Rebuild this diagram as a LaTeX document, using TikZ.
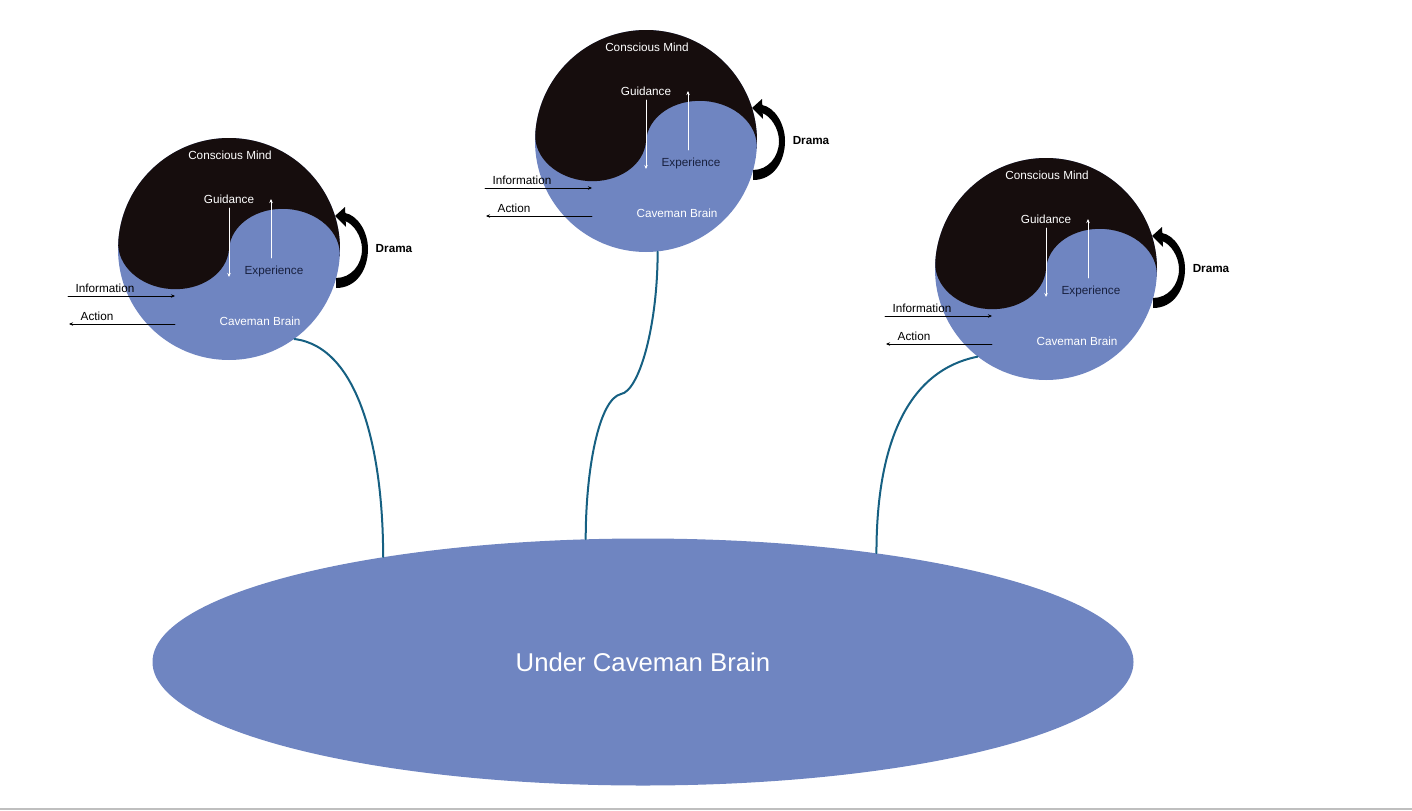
\documentclass[tikz,border=0pt]{standalone}
\usepackage{fontspec}
\setmainfont{Liberation Sans}
\usetikzlibrary{arrows.meta,shapes.geometric}
\definecolor{brainblue}{RGB}{111,133,193}
\definecolor{mindblack}{RGB}{22,13,13}
\definecolor{linkteal}{RGB}{22,96,130}
\definecolor{expnavy}{RGB}{24,32,62}
\tikzset{
  lbl/.style={font=\fontsize{8.8}{10}\selectfont,inner sep=0pt},
  thinarrow/.style={-{Stealth[length=3pt,width=2.6pt]},line width=0.6pt},
  link/.style={linkteal,line width=1.5pt},
}
\begin{document}
\begin{tikzpicture}[x={(0.75pt,0pt)},y={(0pt,-0.75pt)},line join=round,line cap=round]
  \path[use as bounding box] (0,0) rectangle (1412,810);
  \draw[gray!50,line width=1.5pt] (0,809) -- (1412,809);
  % base of all
  \node[ellipse,fill=brainblue,minimum width=735.75pt,minimum height=185.25pt,inner sep=0pt,
        text=white,font=\fontsize{19.3}{22}\selectfont] (under) at (643,662) {Under Caveman Brain};
  % the three minds
  \foreach \n/\cx/\cy in {1/229/249,2/646/141,3/1046/269}{
    \begin{scope}[shift={(\cx,\cy)}]
      \node[circle,fill=brainblue,minimum size=166.5pt,inner sep=0pt] (c\n) at (0,0) {};
      \fill[mindblack,rotate=-4] (-111,0) arc (180:360:111) arc (0:-180:55.5 and 44) arc (0:180:55.5 and 44) -- cycle;
      \node[lbl,text=white] (cm\n) at (1,-94) {Conscious Mind};
      \node[lbl,text=white] (gd\n) at (0,-50) {Guidance};
      \draw[thinarrow,white] (0,-41) -- (0,28);
      \draw[thinarrow,white] (42,9) -- (42,-50);
      \node[lbl,text=expnavy] (ex\n) at (45,22) {Experience};
      \node[lbl] (in\n) at (-124,39) {Information};
      \draw[thinarrow] (-161,47) -- (-54,47);
      \node[lbl] (ac\n) at (-132,67) {Action};
      \draw[thinarrow] (-54,75) -- (-160,75);
      \node[lbl,text=white] (cb\n) at (31,72) {Caveman Brain};
      % drama loop
      \fill[black] (107,39) .. controls (128,39) and (139,20) .. (139,0)
        .. controls (139,-18) and (128,-34) .. (116,-36) -- (116,-28)
        .. controls (125,-25) and (133,-12) .. (133,0)
        .. controls (133,16) and (122,29) .. (107,29) -- cycle;
      \fill[black] (106,-33) -- (116,-42) -- (117,-22) -- cycle;
      \node[lbl,font=\fontsize{8.8}{10}\selectfont\bfseries] (dr\n) at (165,0) {Drama};
    \end{scope}
  }
  % links down to the base
  \draw[link] (c1.-54) .. controls +(65,8) and +(0,-105) .. (under.158);
  \coordinate (kink) at (621,394);
  \draw[link] (c2.-84) .. controls +(0,75) and +(18,-3) .. (kink)
    .. controls +(-22,5) and +(0,-70) .. (under.115);
  \draw[link] (c3.-128) .. controls +(-75,15) and +(0,-100) .. (under.25);
\end{tikzpicture}
\end{document}
